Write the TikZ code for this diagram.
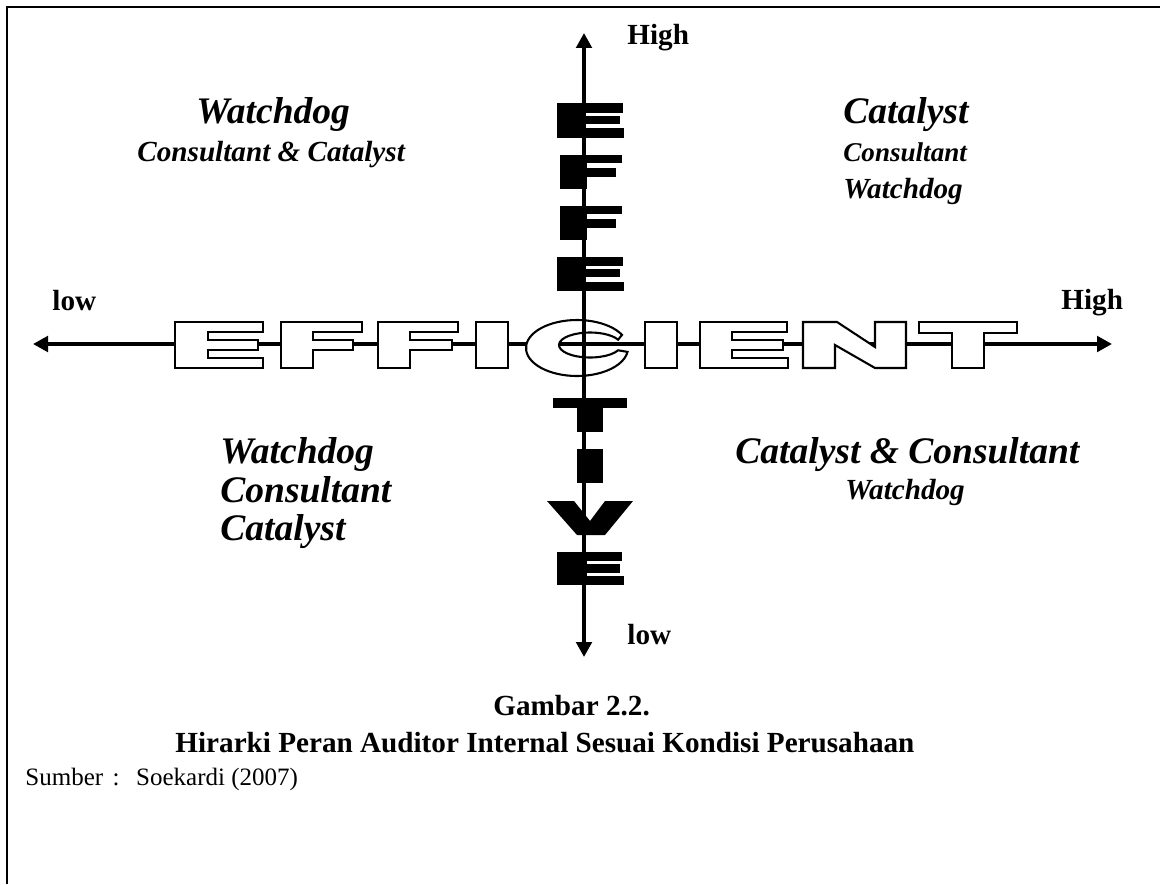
\documentclass[tikz,border=0pt]{standalone}
\usepackage{fontspec}
\setmainfont{Liberation Serif}
\usetikzlibrary{arrows.meta}
\begin{document}
\begin{tikzpicture}[x=0.48pt,y=-0.48pt,
  frameline/.style={line width=0.96pt},
  axisline/.style={line width=1.9pt,
    {Triangle[length=7.2pt,width=7.4pt]}-{Triangle[length=7.2pt,width=7.4pt]}},
  hletter/.style={draw,fill=white,line width=1pt,line join=miter},
  vletter/.style={fill=black},
  txt/.style={anchor=base west,inner sep=0pt},
  bigrole/.style={txt,font=\fontsize{18}{20}\selectfont\bfseries\itshape},
  midrole/.style={txt,font=\fontsize{14}{16}\selectfont\bfseries\itshape},
  smallrole/.style={txt,font=\fontsize{13}{15}\selectfont\bfseries\itshape},
  axislabel/.style={txt,font=\fontsize{14}{16}\selectfont\bfseries},
  captiontext/.style={txt,font=\fontsize{14}{16}\selectfont\bfseries},
  sourcetext/.style={txt,font=\fontsize{12}{14}\selectfont}]
\useasboundingbox (0,0) rectangle (1160,884);

% page frame (left and top edges)
\draw[frameline] (7,884) -- (7,7) -- (1160,7);

% axis end points
\coordinate (axL) at (33,344);
\coordinate (axR) at (1112,344);
\coordinate (axT) at (584,33);
\coordinate (axB) at (584,657);

% horizontal axis, under the outlined word
\draw[axisline] (axL) -- (axR);

% outlined word EFFICIENT along the horizontal axis
\path[hletter] (175,322) -- (263,322) -- (263,332) -- (208,332) -- (208,340) -- (258,340)
  -- (258,350) -- (208,350) -- (208,358) -- (263,358) -- (263,368) -- (175,368) -- cycle;
\path[hletter] (281,322) -- (362,322) -- (362,332) -- (313,332) -- (313,340) -- (353,340)
  -- (353,350) -- (313,350) -- (313,368) -- (281,368) -- cycle;
\path[hletter] (378,322) -- (458,322) -- (458,332) -- (410,332) -- (410,340) -- (452,340)
  -- (452,350) -- (410,350) -- (410,368) -- (378,368) -- cycle;
\path[hletter] (476,322) rectangle (508,368);
\path[hletter] ([shift={(577,348)}]-28:51 and 28)
  arc[start angle=-28,end angle=-352,x radius=51,y radius=28]
  -- ([shift={(590,345)}]25:31 and 12.5)
  arc[start angle=25,end angle=335,x radius=31,y radius=12.5] -- cycle;
\path[hletter] (645,322) rectangle (677,368);
\path[hletter] (700,322) -- (787,322) -- (787,332) -- (732,332) -- (732,340) -- (783,340)
  -- (783,350) -- (732,350) -- (732,358) -- (788,358) -- (788,368) -- (700,368) -- cycle;
\path[hletter] (803,322) -- (837,322) -- (875,347) -- (875,322) -- (906,322) -- (906,368)
  -- (875,368) -- (835,345) -- (835,368) -- (803,368) -- cycle;
\path[hletter] (919,322) -- (1017,322) -- (1017,333) -- (984,333) -- (984,368) -- (952,368)
  -- (952,333) -- (919,333) -- cycle;

% vertical axis
\draw[axisline] (axB) -- (axT);

% solid word EFFECTIVE along the vertical axis
\path[vletter] (557,103) rectangle (585,138);
\path[vletter] (584,103) rectangle (623,113);
\path[vletter] (584,116) rectangle (620,124);
\path[vletter] (584,128) rectangle (624,138);

\path[vletter] (560,155) rectangle (587,189);
\path[vletter] (586,155) rectangle (622,163);
\path[vletter] (586,168) rectangle (616,177);

\path[vletter] (560,206) rectangle (587,240);
\path[vletter] (586,206) rectangle (622,214);
\path[vletter] (586,219) rectangle (616,228);

\path[vletter] (557,257) rectangle (585,291);
\path[vletter] (584,257) rectangle (623,266);
\path[vletter] (584,269) rectangle (620,277);
\path[vletter] (584,282) rectangle (624,291);

\path[vletter] (553,398) rectangle (627,408);
\path[vletter] (577,407) rectangle (603,432);

\path[vletter] (577,449) rectangle (603,483);

\path[vletter] (547,501) -- (574,501) -- (590,521) -- (605,501) -- (633,501)
  -- (605,535) -- (577,535) -- cycle;

\path[vletter] (557,552) rectangle (587,585);
\path[vletter] (586,552) rectangle (622,561);
\path[vletter] (586,564) rectangle (620,573);
\path[vletter] (586,576) rectangle (624,585);

% axis labels
\node[axislabel] (hiV) at (627,45) {High};
\node[axislabel] (loV) at (627,644) {low};
\node[axislabel] (loH) at (52,310) {low};
\node[axislabel] (hiH) at (1061,309) {High};

% quadrant roles
\node[bigrole] (tl1) at (196,123) {Watchdog};
\node[midrole] (tl2) at (137,161) {Consultant \& Catalyst};

\node[bigrole] (tr1) at (843,123) {Catalyst};
\node[smallrole] (tr2) at (843,161) {Consultant};
\node[midrole] (tr3) at (843,198) {Watchdog};

\node[bigrole] (bl1) at (220,463) {Watchdog};
\node[bigrole] (bl2) at (220,502) {Consultant};
\node[bigrole] (bl3) at (220,540) {Catalyst};

\node[bigrole] (br1) at (735,463) {Catalyst \& Consultant};
\node[midrole] (br2) at (845,499) {Watchdog};

% caption and source
\node[captiontext] (cap1) at (493,715) {Gambar 2.2.};
\node[captiontext] (cap2) at (175,752) {Hirarki Peran Auditor Internal Sesuai Kondisi Perusahaan};
\node[sourcetext] (src) at (25,785) {Sumber\hspace{4.5pt}:\hspace{8pt}Soekardi (2007)};
\end{tikzpicture}
\end{document}
